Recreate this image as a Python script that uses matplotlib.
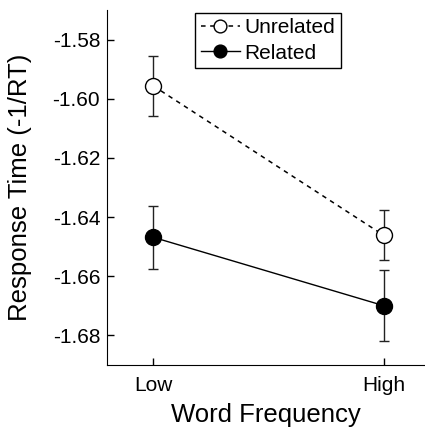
import matplotlib
matplotlib.use('AGG')
import matplotlib.pyplot as plt

plt.rcParams['font.family'] = ['Liberation Sans', 'DejaVu Sans']

# word frequency conditions and mean response times (-1/RT)
conditions = ['Low', 'High']
unrelated_mean = [-1.5956, -1.6461]
unrelated_err = [0.0102, 0.0085]
related_mean = [-1.6468, -1.6699]
related_err = [0.0107, 0.0120]

fig = plt.figure(figsize=(4.25, 4.29), dpi=100)
ax = fig.add_axes([0.252, 0.149, 0.748, 0.8275])

x = range(len(conditions))

# error bars first, then lines + markers on top
ax.errorbar(x, unrelated_mean, yerr=unrelated_err, fmt='none', ecolor='#222222',
            elinewidth=1, capsize=3.5, zorder=2)
ax.errorbar(x, related_mean, yerr=related_err, fmt='none', ecolor='#222222',
            elinewidth=1, capsize=3.5, zorder=2)
ax.plot(x, unrelated_mean, color='black', linestyle=(0, (3, 3)), linewidth=1.1,
        marker='o', markersize=11.5, markerfacecolor='white',
        markeredgecolor='black', markeredgewidth=1, label='Unrelated', zorder=3)
ax.plot(x, related_mean, color='black', linestyle='-', linewidth=1,
        marker='o', markersize=11.5, markerfacecolor='black',
        markeredgecolor='black', label='Related', zorder=3)

ax.set_xlim(-0.2, 1.18)
ax.set_ylim(-1.69, -1.57)
ax.set_xticks(list(x))
ax.set_xticklabels(conditions)
ax.set_yticks([-1.58, -1.60, -1.62, -1.64, -1.66, -1.68])
ax.set_yticklabels(['-1.58', '-1.60', '-1.62', '-1.64', '-1.66', '-1.68'])

ax.spines['top'].set_visible(False)
ax.spines['right'].set_visible(False)
ax.tick_params(direction='in', length=5, width=1, labelsize=15)
ax.tick_params(axis='y', pad=5)
ax.tick_params(axis='x', pad=8)

ax.set_xlabel('Word Frequency', fontsize=18.5)
ax.set_ylabel('Response Time (-1/RT)', fontsize=18.5)
ax.xaxis.set_label_coords(0.5, -0.107)
ax.yaxis.set_label_coords(-0.236, 0.5)

leg = ax.legend(loc='upper left', bbox_to_anchor=(0.459, 0.970),
                bbox_transform=fig.transFigure, borderaxespad=0,
                fancybox=False, edgecolor='black', framealpha=1,
                fontsize=15, handlelength=1.9, handletextpad=0.2,
                borderpad=0.27, labelspacing=0.3, markerscale=0.8)
leg.get_frame().set_linewidth(1)

plt.savefig('out.png', dpi=100)
